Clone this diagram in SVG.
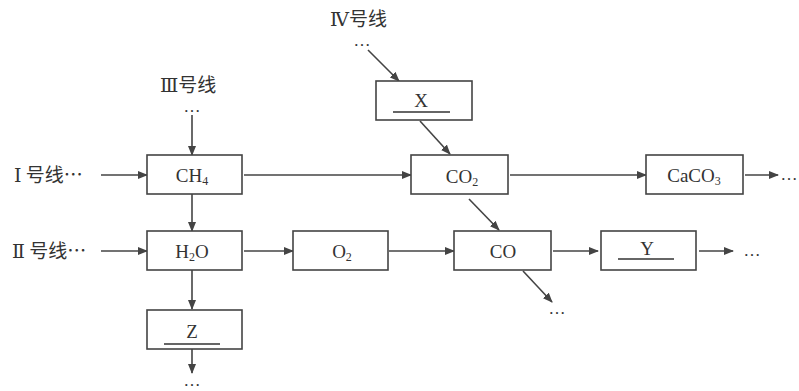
<svg xmlns="http://www.w3.org/2000/svg" width="799" height="391" viewBox="0 0 799 391">
<defs>
<marker id="ah" markerWidth="10" markerHeight="8" refX="9" refY="4" orient="auto" markerUnits="userSpaceOnUse">
<path d="M0,0 L10,4 L0,8 Z" fill="#444"/>
</marker>
<style>
.box{fill:#fff;stroke:#444;stroke-width:1.6}
.t{font-family:"Liberation Serif","Noto Sans CJK SC",serif;font-size:19px;fill:#333;text-anchor:middle}
.d{font-family:"Liberation Serif",serif;font-size:17px;fill:#333;text-anchor:middle}
.s{font-size:12px}
.c{stroke:#444;stroke-width:1.6;fill:none;marker-end:url(#ah)}
.u{stroke:#333;stroke-width:1.4}
.lbl{font-family:"Noto Sans CJK SC",sans-serif;font-size:19px;fill:#333}
.rn{font-family:"DejaVu Serif","Liberation Serif",serif}
</style>
</defs>
<rect width="799" height="391" fill="#fff"/>
<g id="labels">
<text class="lbl" x="330" y="26"><tspan class="rn">Ⅳ</tspan>号线</text>
<text class="d" x="362" y="46">…</text>
<text class="lbl" x="160" y="92"><tspan class="rn">Ⅲ</tspan>号线</text>
<text class="d" x="192" y="112">…</text>
<text class="lbl" x="14" y="182"><tspan class="rn">Ⅰ</tspan> 号线…</text>
<text class="lbl" x="12" y="258"><tspan class="rn">Ⅱ</tspan> 号线…</text>
<text class="d" x="789" y="180">…</text>
<text class="d" x="752" y="256">…</text>
<text class="d" x="557" y="314">…</text>
<text class="d" x="192" y="386">…</text>
</g>
<g id="connectors">
<line class="c" x1="101" y1="175" x2="147" y2="175"/>
<line class="c" x1="192" y1="115" x2="192" y2="155"/>
<line class="c" x1="368" y1="50" x2="399" y2="81"/>
<line class="c" x1="420" y1="121" x2="450" y2="154"/>
<line class="c" x1="244" y1="175" x2="411" y2="175"/>
<line class="c" x1="510" y1="175" x2="646" y2="175"/>
<line class="c" x1="745" y1="175" x2="778" y2="175"/>
<line class="c" x1="192" y1="194" x2="192" y2="231"/>
<line class="c" x1="101" y1="251" x2="147" y2="251"/>
<line class="c" x1="244" y1="251" x2="293" y2="251"/>
<line class="c" x1="389" y1="251" x2="454" y2="251"/>
<line class="c" x1="469" y1="199" x2="499" y2="230"/>
<line class="c" x1="553" y1="251" x2="598" y2="251"/>
<line class="c" x1="699" y1="251" x2="733" y2="251"/>
<line class="c" x1="523" y1="271" x2="552" y2="302"/>
<line class="c" x1="192" y1="270" x2="192" y2="309"/>
<line class="c" x1="192" y1="349" x2="192" y2="373"/>
</g>
<g id="X">
<rect class="box" x="376" y="81" width="96" height="39"/>
<text class="t" x="421" y="107">X</text>
<line class="u" x1="393" y1="112" x2="450" y2="112"/>
</g>
<g id="CH4">
<rect class="box" x="147" y="155" width="95" height="39"/>
<text class="t" x="192" y="182">CH<tspan class="s" dy="3">4</tspan></text>
</g>
<g id="CO2">
<rect class="box" x="411" y="155" width="97" height="39"/>
<text class="t" x="462" y="183">CO<tspan class="s" dy="3">2</tspan></text>
</g>
<g id="CaCO3">
<rect class="box" x="646" y="155" width="97" height="39"/>
<text class="t" x="694" y="182">CaCO<tspan class="s" dy="3">3</tspan></text>
</g>
<g id="H2O">
<rect class="box" x="147" y="231" width="95" height="39"/>
<text class="t" x="192" y="258">H<tspan class="s" dy="3">2</tspan><tspan dy="-3">O</tspan></text>
</g>
<g id="O2">
<rect class="box" x="293" y="231" width="95" height="39"/>
<text class="t" x="342" y="258">O<tspan class="s" dy="3">2</tspan></text>
</g>
<g id="CO">
<rect class="box" x="454" y="231" width="97" height="39"/>
<text class="t" x="503" y="258">CO</text>
</g>
<g id="Y">
<rect class="box" x="601" y="231" width="95" height="39"/>
<text class="t" x="647" y="255">Y</text>
<line class="u" x1="618" y1="259" x2="674" y2="259"/>
</g>
<g id="Z">
<rect class="box" x="147" y="310" width="95" height="39"/>
<text class="t" x="192" y="338">Z</text>
<line class="u" x1="164" y1="344" x2="220" y2="344"/>
</g>
</svg>
